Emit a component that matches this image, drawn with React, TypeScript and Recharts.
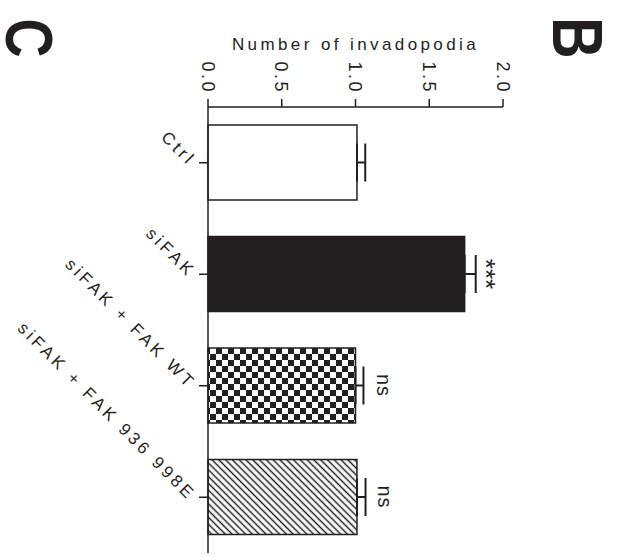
import { Bar, BarChart, Cell, ErrorBar, Label, LabelList, XAxis, YAxis } from "recharts";

const groups = ["Ctrl", "siFAK", "siFAK + FAK WT", "siFAK + FAK 936 998E"];
const means = [1.01, 1.74, 1.0, 1.01];
const sems = [0.056, 0.075, 0.054, 0.058];
const significance = ["", "***", "ns", "ns"];
const valueTicks = [0, 0.5, 1, 1.5, 2];
const barFills = ["#ffffff", "#231f20", "url(#checker)", "url(#hatch)"];

const INK = "#231f20";
const FONT = "'Liberation Sans', Arial, sans-serif";

const rows = groups.map((name, i) => ({
  name,
  mean: means[i],
  err: [0, sems[i]],
  sig: significance[i]
}));

function ValueTick({ x, y, payload }: { x: number; y: number; payload: { value: number } }) {
  return (
    <text
      transform={`translate(${x},${y - 3}) rotate(90)`}
      textAnchor="end"
      dy="0.35em"
      fontSize={18}
      letterSpacing={2.5}
      fill={INK}
      fontFamily={FONT}
    >
      {Number(payload.value).toFixed(1)}
    </text>
  );
}

function GroupTick({ x, y, payload }: { x: number; y: number; payload: { value: string } }) {
  return (
    <text
      transform={`translate(${x - 4},${y}) rotate(45)`}
      textAnchor="end"
      dy="0.35em"
      fontSize={17}
      letterSpacing={3.5}
      fill={INK}
      fontFamily={FONT}
    >
      {payload.value}
    </text>
  );
}

function SigLabel(props: any) {
  const { x, y, width, height, value } = props;
  if (!value) return null;
  const stars = String(value).includes("*");
  const cx = Number(x) + Number(width) + 28;
  const cy = Number(y) + Number(height) / 2;
  return (
    <text
      transform={`translate(${cx},${cy}) rotate(90)`}
      textAnchor="middle"
      dy={stars ? "0.615em" : "0.35em"}
      fontSize={stars ? 26 : 20}
      letterSpacing={stars ? 0 : 1}
      fill={INK}
      fontFamily={FONT}
    >
      {value}
    </text>
  );
}

function Title({ viewBox }: any) {
  const vb = viewBox ?? { x: 208, width: 295 };
  return (
    <text x={vb.x + vb.width / 2} y={50} textAnchor="middle" fontSize={17} letterSpacing={3.4} fill={INK} fontFamily={FONT}>
      Number of invadopodia
    </text>
  );
}

export default function App() {
  return (
    <div style={{ position: "absolute", left: 0, top: 0, width: 617, height: 557, background: "#fff" }}>
      <BarChart
        width={617}
        height={557}
        data={rows}
        layout="vertical"
        margin={{ top: 0, right: 114, bottom: 4, left: 0 }}
        barSize={75}
      >
        <defs>
          <pattern id="checker" width={12} height={12} patternUnits="userSpaceOnUse">
            <rect width={12} height={12} fill="#fff" />
            <rect width={6} height={6} fill={INK} />
            <rect x={6} y={6} width={6} height={6} fill={INK} />
          </pattern>
          <pattern id="hatch" width={4.8} height={4.8} patternUnits="userSpaceOnUse" patternTransform="rotate(45)">
            <rect width={4.8} height={4.8} fill="#fff" />
            <line x1={0} y1={2.4} x2={4.8} y2={2.4} stroke={INK} strokeWidth={1.5} />
          </pattern>
        </defs>
        <XAxis
          type="number"
          orientation="top"
          domain={[0, 2]}
          ticks={valueTicks}
          interval={0}
          height={107}
          tickSize={8}
          axisLine={{ stroke: INK, strokeWidth: 1.5 }}
          tickLine={{ stroke: INK, strokeWidth: 1.5 }}
          tick={(p: any) => <ValueTick {...p} />}
        >
          <Label content={<Title />} />
        </XAxis>
        <YAxis
          type="category"
          dataKey="name"
          width={208}
          tickSize={9}
          interval={0}
          axisLine={{ stroke: INK, strokeWidth: 1.5 }}
          tickLine={{ stroke: INK, strokeWidth: 1.5 }}
          tick={(p: any) => <GroupTick {...p} />}
        />
        <Bar dataKey="mean" stroke={INK} strokeWidth={1.5} isAnimationActive={false}>
          {rows.map((r, i) => (
            <Cell key={r.name} fill={barFills[i]} />
          ))}
          <ErrorBar dataKey="err" direction="x" width={19} stroke={INK} strokeWidth={2} isAnimationActive={false} />
          <LabelList dataKey="sig" content={SigLabel} />
        </Bar>
      </BarChart>
      <svg width={617} height={557} style={{ position: "absolute", left: 0, top: 0, pointerEvents: "none" }}>
        <text
          transform="translate(30,38) rotate(90) scale(0.82,1)"
          textAnchor="middle"
          dy="0.358em"
          fontSize={66}
          fontWeight="bold"
          fill={INK}
          fontFamily={FONT}
        >
          C
        </text>
        <text
          transform="translate(578.5,38) rotate(90) scale(0.82,1)"
          textAnchor="middle"
          dy="0.358em"
          fontSize={70}
          fontWeight="bold"
          fill={INK}
          fontFamily={FONT}
        >
          B
        </text>
      </svg>
    </div>
  );
}
